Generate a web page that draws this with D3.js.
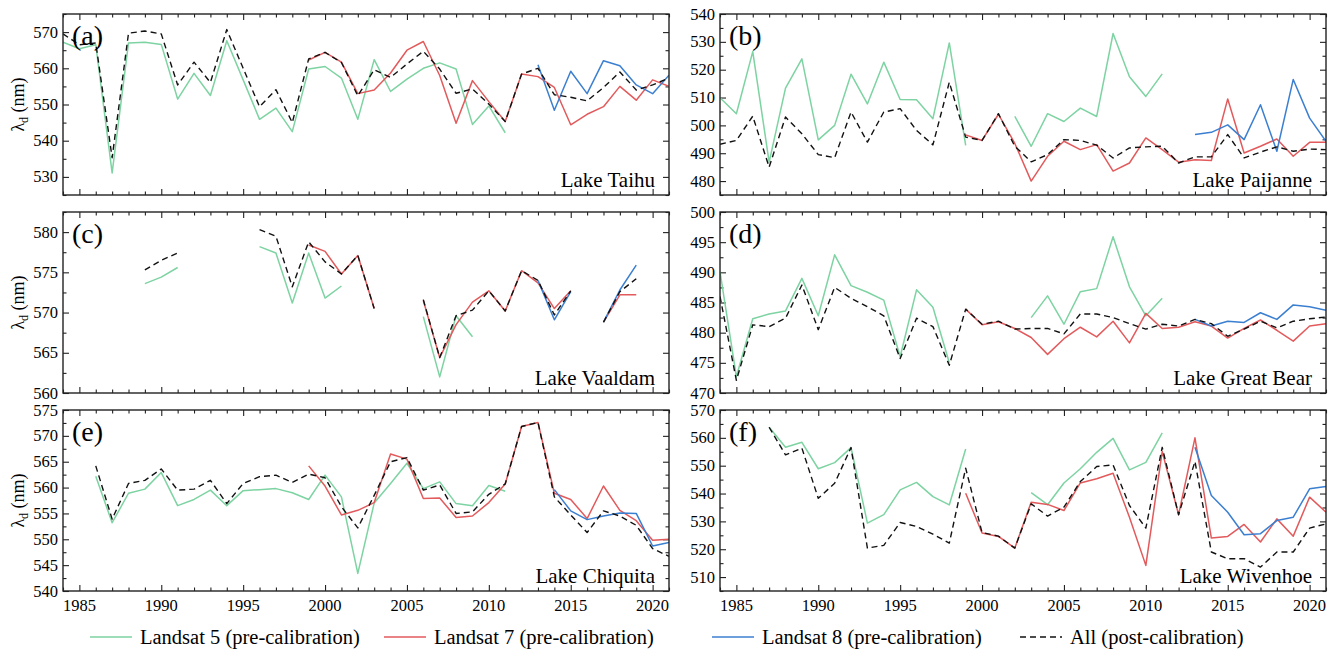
<!DOCTYPE html>
<html><head><meta charset="utf-8">
<script src="https://cdn.jsdelivr.net/npm/d3@7"></script>
<style>body{margin:0;background:#fff;}</style></head>
<body><svg id="chart" width="1335" height="650"></svg>
<script>
const _ = null;
const years = [1984,1985,1986,1987,1988,1989,1990,1991,1992,1993,1994,1995,1996,1997,1998,1999,2000,2001,2002,2003,2004,2005,2006,2007,2008,2009,2010,2011,2012,2013,2014,2015,2016,2017,2018,2019,2020,2021];
const xTickLabels = [1985,1990,1995,2000,2005,2010,2015,2020];
const seriesNames = ["Landsat 5 (pre-calibration)","Landsat 7 (pre-calibration)","Landsat 8 (pre-calibration)","All (post-calibration)"];

// Lake Taihu
const taihuL5 = [567.2,565.4,566.5,531.1,567,567.2,566.6,551.5,558.6,552.5,567.6,556.8,545.9,549,542.5,559.8,560.5,557.3,545.9,562.4,553.6,557,560,561.5,559.8,544.5,549.6,542.2,_,_,_,_,_,_,_,_,_,_];
const taihuL7 = [_,_,_,_,_,_,_,_,_,_,_,_,_,_,_,562.3,564.4,561.7,553,554,558.7,565,567.4,558,544.8,556.6,550.8,545.3,558.4,557.7,554.7,544.4,547.3,549.4,555,551.2,556.8,555];
const taihuL8 = [_,_,_,_,_,_,_,_,_,_,_,_,_,_,_,_,_,_,_,_,_,_,_,_,_,_,_,_,_,561,548.4,559.2,553,562.1,560.7,555.4,553,558.1];
const taihuAll = [569.5,566.5,567,535.3,569.7,570.3,569.5,555.4,561.7,556.1,570.7,560,549.4,554.1,545,562.6,564.4,561.6,552.4,559.6,557.5,561.2,564.7,559.8,553.1,554.3,550.1,545.3,558.4,560,552.7,552,551,554.7,559,554,555.4,557.3];
const taihuYTicks = [530,540,550,560,570];

// Lake Paijanne
const paijanneL5 = [509.9,504.2,526.5,486.8,513.4,523.9,494.8,500,518.4,507.7,522.7,509.3,509.2,502.4,529.6,492.8,_,_,503.2,492.5,504.2,501.4,506.2,503.2,533,517.5,510.4,518.5,_,_,_,_,_,_,_,_,_,_];
const paijanneL7 = [_,_,_,_,_,_,_,_,_,_,_,_,_,_,_,496.6,494.6,504,493.5,480,488.9,494.3,491.3,493.1,483.6,486.5,495.5,491.3,486.8,487.7,487.4,509.5,490.1,492.5,495.1,488.9,493.9,493.9];
const paijanneL8 = [_,_,_,_,_,_,_,_,_,_,_,_,_,_,_,_,_,_,_,_,_,_,_,_,_,_,_,_,_,496.7,497.5,500.2,494.9,507.4,490.7,516.5,502.6,494.3];
const paijanneAll = [493.2,494.6,503.3,485,503,497,489.5,488.4,504.8,494,504.8,506,498.2,493,515.5,495.8,494.6,504.2,492.5,486.9,489.5,494.9,494.6,492.9,488.3,491.9,492.3,492.5,486.5,488.7,488.7,496.7,488.3,490.4,492.3,490.7,491.5,491.3];
const paijanneYTicks = [480,490,500,510,520,530,540];

// Lake Vaaldam
const vaaldamL5 = [_,_,_,_,_,573.6,574.4,575.6,_,_,_,_,578.2,577.4,571.2,577.4,571.8,573.3,_,_,_,_,569.5,562,569.6,567,_,_,_,_,_,_,_,_,_,_,_,_];
const vaaldamL7 = [_,_,_,_,_,_,_,_,_,_,_,_,_,_,_,578.4,577.6,574.8,577.1,570.5,_,_,571.5,564.4,568.5,571.3,572.7,570.2,575.2,573.7,570.5,572.7,_,568.8,572.2,572.2,_,_];
const vaaldamL8 = [_,_,_,_,_,_,_,_,_,_,_,_,_,_,_,_,_,_,_,_,_,_,_,_,_,_,_,_,_,574,569.1,572.6,_,568.8,572.8,575.9,_,_];
const vaaldamAll = [_,_,_,_,_,575.3,576.5,577.4,_,_,_,_,580.3,579.5,573.2,578.8,576.3,574.8,577.1,570.5,_,_,571.6,564.4,569.6,570.3,572.7,570.2,575.2,574,569.7,572.7,_,568.8,572.6,574.2,_,_];
const vaaldamYTicks = [560,565,570,575,580];

// Lake Great Bear
const greatBearL5 = [490.1,472.7,482.3,483.1,483.6,489,482.8,492.9,487.8,486.7,485.4,476,487.1,484.2,475,_,_,_,_,482.5,486.1,481.4,486.8,487.3,495.9,487.6,482.8,485.7,_,_,_,_,_,_,_,_,_,_];
const greatBearL7 = [_,_,_,_,_,_,_,_,_,_,_,_,_,_,_,483.9,481.3,481.8,480.7,479.2,476.4,479,480.9,479.3,481.9,478.3,483.2,480.7,480.9,481.8,481.1,479.1,480.7,482.1,480.4,478.6,481.1,481.5];
const greatBearL8 = [_,_,_,_,_,_,_,_,_,_,_,_,_,_,_,_,_,_,_,_,_,_,_,_,_,_,_,_,_,482.2,481.1,481.9,481.7,483.3,482.2,484.6,484.3,483.7];
const greatBearAll = [486,472.1,481.3,481,482.4,487.9,480.5,487.5,485.7,484.3,482.8,475.7,482.4,481,474.6,483.9,481.4,481.9,480.6,480.7,480.7,479.8,483.1,483.1,482.5,481.5,480.6,481.4,481.1,482.2,481.5,479.4,480.6,481.9,480.8,481.9,482.3,482.6];
const greatBearYTicks = [470,475,480,485,490,495,500];

// Lake Chiquita
const chiquitaL5 = [_,_,562.2,553.2,558.9,559.7,562.9,556.5,557.7,559.5,556.5,559.4,559.6,559.8,559,557.7,562.4,558.2,543.4,557,560.8,564.7,559.8,561.1,556.9,556.5,560.4,559.3,_,_,_,_,_,_,_,_,_,_];
const chiquitaL7 = [_,_,_,_,_,_,_,_,_,_,_,_,_,_,_,564.2,560.3,554.7,555.6,557.1,566.5,565.5,557.9,558,554.2,554.5,557.1,560.7,571.8,572.6,558.9,557.7,554,560.3,555.6,553.6,549.8,550];
const chiquitaL8 = [_,_,_,_,_,_,_,_,_,_,_,_,_,_,_,_,_,_,_,_,_,_,_,_,_,_,_,_,_,_,559.6,555.5,553.8,554.5,555.1,555,548.7,549.4];
const chiquitaAll = [_,_,564.2,553.9,560.8,561.4,563.6,559.5,559.7,561.4,556.9,560.8,562.1,562.4,561,562.6,561.9,556.3,552.2,558.5,565,565.8,559.5,560.5,555,555.3,558.7,560.7,571.8,572.6,558.2,554.7,551.3,555.5,554.5,552.7,548.2,546.7];
const chiquitaYTicks = [540,545,550,555,560,565,570,575];

// Lake Wivenhoe
const wivenhoeL5 = [_,_,_,563.8,556.6,558.4,548.9,551.1,556.5,529.4,532.4,541.3,544,538.9,535.9,556,_,_,_,540.3,536,543.8,548.9,554.8,559.8,548.5,551.2,561.8,_,_,_,_,_,_,_,_,_,_];
const wivenhoeL7 = [_,_,_,_,_,_,_,_,_,_,_,_,_,_,_,540.1,525.8,524.6,520.4,536.9,536.1,533.9,543.8,545.3,547.3,531.5,514.2,555.1,532.4,560,524,524.6,528.9,522.6,530.9,524.7,538.7,533.3];
const wivenhoeL8 = [_,_,_,_,_,_,_,_,_,_,_,_,_,_,_,_,_,_,_,_,_,_,_,_,_,_,_,_,_,556.6,539.3,533.3,525.2,525.6,530.3,531.5,541.7,542.5];
const wivenhoeAll = [_,_,_,563.8,553.9,556.3,538.3,543.7,556.5,520.4,521.4,529.6,528.2,525.4,522.2,549.1,526,524.7,520.4,536.3,531.9,535.1,544.3,549.7,550.3,535.7,527.6,556.6,532.4,551.5,519,516.6,516.6,513.6,519,519,527.6,529.1];
const wivenhoeYTicks = [510,520,530,540,550,560,570];

const panels = [
  {tag:"(a)", lake:"Lake Taihu", col:0,row:0, dom:[525,575], minor:5, yt:taihuYTicks, s:[taihuL5,taihuL7,taihuL8,taihuAll]},
  {tag:"(b)", lake:"Lake Paijanne", col:1,row:0, dom:[475,540], minor:5, yt:paijanneYTicks, s:[paijanneL5,paijanneL7,paijanneL8,paijanneAll]},
  {tag:"(c)", lake:"Lake Vaaldam", col:0,row:1, dom:[560,582.5], minor:2.5, yt:vaaldamYTicks, s:[vaaldamL5,vaaldamL7,vaaldamL8,vaaldamAll]},
  {tag:"(d)", lake:"Lake Great Bear", col:1,row:1, dom:[470,500], minor:2.5, yt:greatBearYTicks, s:[greatBearL5,greatBearL7,greatBearL8,greatBearAll]},
  {tag:"(e)", lake:"Lake Chiquita", col:0,row:2, dom:[540,575], minor:2.5, yt:chiquitaYTicks, s:[chiquitaL5,chiquitaL7,chiquitaL8,chiquitaAll]},
  {tag:"(f)", lake:"Lake Wivenhoe", col:1,row:2, dom:[505,570], minor:5, yt:wivenhoeYTicks, s:[wivenhoeL5,wivenhoeL7,wivenhoeL8,wivenhoeAll]}
];

const colors = ["#7dd3a2","#e25a5c","#3b7fd0","#111"];
const colX = [[63,669],[720,1326]];
const rowY = [14,212,410];
const pH = 181;

const svg = d3.select("#chart");
// text helper: every text is appended straight to the svg root
const txt = (x, y, s, size, anchor) => svg.append("text")
  .attr("x", x).attr("y", y).attr("text-anchor", anchor || "start")
  .style("font-family", '"Liberation Serif"').style("font-size", size + "px")
  .text(s);

panels.forEach(p => {
  const [x0,x1] = colX[p.col];
  const y0 = rowY[p.row], y1 = y0 + pH;
  const x = d3.scaleLinear().domain([1984,2021]).range([x0,x1]);
  const y = d3.scaleLinear().domain(p.dom).range([y1,y0]);
  const g = svg.append("g");

  const clipId = "clip"+p.tag.replace(/\W/g,"");
  svg.append("clipPath").attr("id",clipId).append("rect").attr("x",x0).attr("y",y0).attr("width",x1-x0).attr("height",pH);

  const minorX = years.filter(v => xTickLabels.indexOf(v) < 0);
  const minorY = d3.range(p.dom[0], p.dom[1]+0.001, p.minor).filter(v => p.yt.indexOf(v) < 0);

  const mk = (axis, tr) => {
    const a = g.append("g").attr("transform", tr).call(axis);
    a.select(".domain").remove();
    a.selectAll("line").attr("stroke","#222").attr("stroke-width",1.1);
    a.selectAll("text").remove();
    return a;
  };
  mk(d3.axisBottom(x).tickValues(xTickLabels).tickSize(-6), `translate(0,${y1})`);
  mk(d3.axisBottom(x).tickValues(minorX).tickSize(-3.5), `translate(0,${y1})`);
  mk(d3.axisTop(x).tickValues(xTickLabels).tickSize(-6), `translate(0,${y0})`);
  mk(d3.axisTop(x).tickValues(minorX).tickSize(-3.5), `translate(0,${y0})`);
  mk(d3.axisLeft(y).tickValues(p.yt).tickSize(-6), `translate(${x0},0)`);
  mk(d3.axisLeft(y).tickValues(minorY).tickSize(-3.5), `translate(${x0},0)`);
  mk(d3.axisRight(y).tickValues(p.yt).tickSize(-6), `translate(${x1},0)`);
  mk(d3.axisRight(y).tickValues(minorY).tickSize(-3.5), `translate(${x1},0)`);

  // tick labels, placed through the scales
  p.yt.forEach(v => txt(x0 - 5, y(v) + 5.5, String(v), 16.5, "end"));
  if (p.row === 2) xTickLabels.forEach(v => txt(x(v), y1 + 20, String(v), 16.5, "middle"));

  const lines = g.append("g").attr("clip-path",`url(#${clipId})`);
  p.s.forEach((vals,i) => {
    const line = d3.line().defined(d => d.v != null).x(d => x(d.yr)).y(d => y(d.v));
    lines.append("path")
      .datum(years.map((yr,k) => ({yr, v: vals[k]})))
      .attr("d", line)
      .attr("fill","none")
      .attr("stroke", colors[i])
      .attr("stroke-width", i===3 ? 1.4 : 1.5)
      .attr("stroke-dasharray", i===3 ? "6,4" : null)
      .attr("stroke-linejoin","round");
  });

  g.append("rect").attr("x",x0).attr("y",y0).attr("width",x1-x0).attr("height",pH)
    .attr("fill","none").attr("stroke","#222").attr("stroke-width",1.4);

  txt(x0+9, y0+31, p.tag, 28);
  txt(x1-14, y1-8, p.lake, 21, "end");

  if (p.col === 0) {
    const t = svg.append("text").attr("transform",`translate(24,${(y0+y1)/2}) rotate(-90)`)
      .attr("text-anchor","middle").style("font-family",'"Liberation Serif"').style("font-size","18px");
    t.append("tspan").text("λ");
    t.append("tspan").attr("dy",4).style("font-size","12px").text("d");
    t.append("tspan").attr("dy",-4).text(" (nm)");
  }
});

// legend
const legX = [90,384,712,1020];
seriesNames.forEach((n,i) => {
  svg.append("line").attr("x1",legX[i]).attr("x2",legX[i]+42).attr("y1",637).attr("y2",637)
    .attr("stroke",colors[i]).attr("stroke-width",1.5).attr("stroke-dasharray", i===3 ? "6,4" : null);
  txt(legX[i]+50, 644, n, 20.5);
});
</script></body></html>
